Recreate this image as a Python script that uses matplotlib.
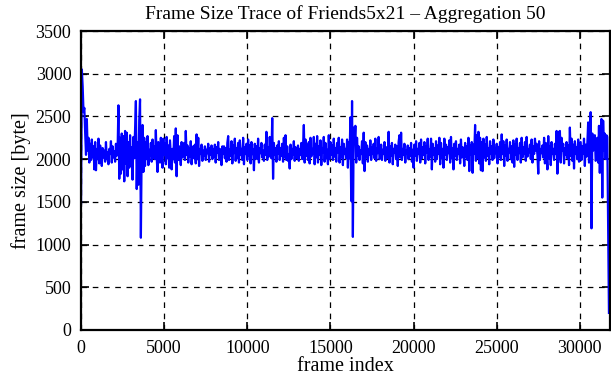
import numpy as np
import matplotlib
matplotlib.use("Agg")
import matplotlib.pyplot as plt

# aggregated frame sizes (50 frames per value)
AGGREGATION = 50

frame_size = [
    # 0 - 950
    1480, 3050, 2850, 2550, 2600, 2300, 2050, 2470, 2100, 2250, 1960, 2180, 1990, 2230, 2020, 2150, 1880, 2200, 1870, 2120,
    # 1000 - 1950
    2000, 2240, 1950, 2160, 2060, 1920, 2130, 2020, 2100, 1970, 2200, 2000, 2080, 1940, 2120, 2060, 2210, 1960, 2150, 2020,
    # 2000 - 2950
    2090, 1970, 2180, 2040, 2110, 2630, 1770, 2250, 1830, 2300, 1880, 2270, 1740, 2330, 1950, 2310, 1800, 2200, 1900, 2280,
    # 3000 - 3950
    1920, 2140, 1760, 2260, 2010, 2350, 2680, 1650, 2200, 1700, 2450, 2700, 1080, 2150, 2400, 1850, 2250, 1920, 2200, 2000,
    # 4000 - 4950
    2270, 1930, 2110, 2040, 2190, 1970, 2230, 2010, 2150, 2000, 2340, 2020, 1850, 2200, 2100, 1960, 2250, 2030, 1900, 2240,
    # 5000 - 5950
    2050, 2180, 1940, 2260, 2010, 2160, 1900, 2220, 2050, 1880, 2120, 2000, 2270, 1960, 2360, 1800, 2280, 1990, 2150, 2070,
    # 6000 - 6950
    1930, 2200, 2020, 2110, 2190, 1990, 2330, 2050, 2160, 1960, 2130, 2030, 2210, 1940, 2080, 2150, 2010, 2170, 1950, 2290,
    # 7000 - 7950
    2000, 2250, 1920, 2120, 2060, 2170, 1980, 2100, 2040, 2150, 1990, 2110, 2070, 2180, 1970, 2130, 2050, 2160, 2000, 2120,
    # 8000 - 8950
    2030, 2170, 1960, 2140, 2080, 2200, 1990, 2120, 2050, 1930, 2150, 2060, 2150, 2010, 2130, 1970, 2190, 2270, 1990, 2110,
    # 9000 - 9950
    2040, 2210, 1950, 2160, 2070, 2240, 1980, 2130, 2010, 2190, 1960, 2220, 2050, 2120, 1990, 2250, 1940, 2140, 2060, 2180,
    # 10000 - 10950
    1990, 2230, 2040, 2160, 1950, 2200, 2060, 2120, 1870, 2180, 2010, 2150, 2000, 2240, 1960, 2130, 2070, 2190, 2020, 2100,
    # 11000 - 11950
    1980, 2170, 2050, 2320, 1990, 2140, 2030, 2260, 2080, 2010, 2480, 1770, 2190, 2050, 2130, 1970, 2160, 2060, 2210, 1990,
    # 12000 - 12950
    2130, 2040, 2180, 1970, 2250, 2020, 2280, 1990, 2150, 1980, 2060, 1890, 2170, 2000, 2120, 2050, 2210, 1980, 2140, 2070,
    # 13000 - 13950
    2010, 2160, 1980, 2120, 2050, 2190, 2000, 2140, 2400, 1960, 2230, 2040, 2170, 1990, 2200, 1950, 2250, 2030, 2120, 2060,
    # 14000 - 14950
    2260, 1940, 2180, 2020, 2270, 1960, 2150, 2050, 2220, 1930, 2130, 2080, 2260, 1970, 2190, 2010, 2110, 1940, 2280, 2000,
    # 15000 - 15950
    2200, 2050, 2160, 1990, 2240, 2030, 2130, 1970, 2190, 2080, 2250, 1960, 2140, 2020, 2230, 1930, 2180, 2060, 2120, 2010,
    # 16000 - 16950
    2230, 1900, 2200, 2010, 2490, 1510, 2680, 1090, 2370, 2200, 2390, 1960, 2250, 2040, 2150, 1990, 2100, 2060, 2210, 1950,
    # 17000 - 17950
    2310, 1860, 2200, 2020, 2160, 1970, 2120, 2050, 2220, 1990, 2140, 2060, 2180, 2010, 2240, 1980, 2130, 2070, 2260, 2000,
    # 18000 - 18950
    2020, 2170, 1990, 2110, 2060, 2200, 1980, 2140, 2050, 2010, 2320, 1960, 2150, 2040, 2190, 1940, 2120, 2080, 2170, 2000,
    # 19000 - 19950
    2150, 1920, 2200, 2280, 2020, 2310, 1990, 2120, 2050, 2180, 1960, 2100, 2070, 2160, 2000, 2130, 2040, 2190, 1970, 2110,
    # 20000 - 20950
    1900, 2170, 2040, 2210, 1980, 2120, 2060, 2190, 1960, 2230, 2010, 2140, 2050, 2200, 1950, 2150, 2080, 2240, 1990, 2110,
    # 21000 - 21950
    2030, 2240, 1880, 2180, 2050, 2130, 1970, 2210, 2000, 2160, 2060, 2250, 1940, 2190, 2020, 2120, 1900, 2240, 2050, 2170,
    # 22000 - 22950
    1990, 2140, 2070, 2220, 1960, 2260, 2010, 2130, 1880, 2180, 2040, 2210, 1990, 2120, 2060, 2170, 1950, 2230, 2020, 2140,
    # 23000 - 23950
    2080, 1920, 2190, 2030, 2150, 1990, 2250, 1860, 2160, 2050, 2200, 1840, 2170, 2060, 2400, 1980, 2280, 2010, 2320, 1950,
    # 24000 - 24950
    2250, 1870, 2200, 1860, 2240, 2020, 2170, 1980, 2260, 2040, 2130, 1940, 2210, 2060, 2150, 1990, 2230, 2010, 2120, 2070,
    # 25000 - 25950
    2180, 1950, 2140, 2030, 2200, 1990, 2290, 2060, 2210, 1920, 2160, 2040, 2230, 1980, 2120, 2080, 2200, 2000, 2150, 1960,
    # 26000 - 26950
    2220, 1910, 2170, 2050, 2240, 1990, 2130, 2070, 2190, 1960, 2250, 2020, 2140, 2060, 2200, 1980, 2260, 2030, 2110, 2080,
    # 27000 - 27950
    2170, 2000, 2230, 1960, 2150, 2060, 2240, 2100, 2180, 2040, 1830, 2210, 1990, 2120, 2070, 2160, 2020, 2250, 1950, 2190,
    # 28000 - 28950
    2050, 1880, 2270, 2010, 2150, 1930, 2200, 2060, 2120, 1990, 2180, 2060, 2330, 1830, 2320, 2000, 2330, 1960, 2250, 2100,
    # 29000 - 29950
    2180, 1950, 2130, 2050, 2200, 2010, 2160, 1930, 2370, 2040, 2240, 1980, 2170, 1890, 2210, 2060, 2140, 2000, 2230, 1970,
    # 30000 - 30950
    2090, 2200, 1990, 2150, 2060, 2240, 1920, 2170, 2030, 2180, 2430, 1960, 2000, 2550, 1190, 2300, 2100, 2200, 2280, 1980,
    # 31000 - 31750
    2000, 2250, 1960, 2390, 1840, 2200, 2470, 1550, 2450, 2100, 2300, 2000, 2280, 2260, 1170, 200,
]

frame_index = np.arange(len(frame_size)) * AGGREGATION

x_ticks = [0, 5000, 10000, 15000, 20000, 25000, 30000]
y_ticks = [0, 500, 1000, 1500, 2000, 2500, 3000, 3500]

plt.rcParams['font.family'] = ['Liberation Serif', 'DejaVu Serif']
plt.rcParams['font.size'] = 13

fig = plt.figure(figsize=(6.11, 3.80), dpi=100)
ax = fig.add_axes([0.1326, 0.1316, 0.8654, 0.7868])

ax.plot(frame_index, frame_size, color='#0000ff', linewidth=1.6)

ax.set_xlim(0, 31800)
ax.set_ylim(0, 3500)
ax.set_xticks(x_ticks)
ax.set_yticks(y_ticks)

ax.grid(True, color='black', linestyle=(0, (4.5, 4.5)), linewidth=0.9)
ax.tick_params(direction='in', length=6, width=1.2, top=True, right=True, pad=7)
for spine in ax.spines.values():
    spine.set_linewidth(1.6)

ax.set_title('Frame Size Trace of Friends5x21 \u2013 Aggregation 50', fontsize=14, pad=8.5)
ax.set_xlabel('frame index', fontsize=14.5, labelpad=0)
ax.set_ylabel('frame size [byte]', fontsize=14.5, labelpad=3)

plt.savefig('out.png', dpi=100)
